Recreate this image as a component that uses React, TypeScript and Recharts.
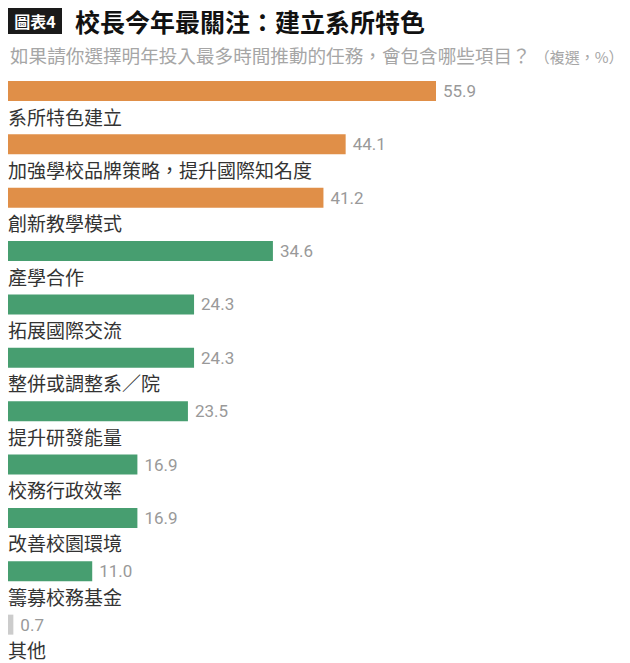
import { Bar, BarChart, Cell, LabelList, XAxis, YAxis } from "recharts";

const categories = [
  "系所特色建立",
  "加強學校品牌策略，提升國際知名度",
  "創新教學模式",
  "產學合作",
  "拓展國際交流",
  "整併或調整系／院",
  "提升研發能量",
  "校務行政效率",
  "改善校園環境",
  "籌募校務基金",
  "其他",
];

const shares = [55.9, 44.1, 41.2, 34.6, 24.3, 24.3, 23.5, 16.9, 16.9, 11.0, 0.7];

// top three are highlighted, the "other" row is greyed out
const highlightCount = 3;
const otherLabel = "其他";

const ORANGE = "#E08F48";
const GREEN = "#479E70";
const GREY = "#CCCCCC";
const CJK = '"Noto Sans CJK TC", "Noto Sans", sans-serif';

const data = categories.map((name, i) => ({ name, value: shares[i] }));

function barColor(name: string, index: number) {
  if (name === otherLabel) return GREY;
  return index < highlightCount ? ORANGE : GREEN;
}

// category name sits under its bar, flush with the chart's left edge
function CategoryLabel(props: any) {
  const vb = props.viewBox ?? props;
  const y = Number(vb.y) + Number(vb.height);
  return (
    <text
      x={0}
      y={y + 15}
      dominantBaseline="central"
      fill="#333333"
      fontFamily={CJK}
      fontSize={19}
      textAnchor="start"
    >
      {props.value}
    </text>
  );
}

export default function App() {
  return (
    <div style={{ width: 622, fontFamily: CJK }}>
      <style>{`body{overflow:hidden}`}</style>
      <div style={{ position: "relative", height: 56 }}>
        <div
          style={{
            position: "absolute",
            left: 0,
            top: 0,
            width: 54,
            height: 26,
            background: "#1a1a1a",
            color: "#fff",
            fontSize: 16,
            fontWeight: 700,
            lineHeight: "26px",
            textAlign: "center",
          }}
        >
          圖表4
        </div>
        <div
          style={{
            position: "absolute",
            left: 67,
            top: -2,
            fontSize: 25,
            fontWeight: 700,
            lineHeight: "30px",
            color: "#111",
            whiteSpace: "nowrap",
          }}
        >
          校長今年最關注：建立系所特色
        </div>
        <div
          style={{
            position: "absolute",
            left: 2,
            top: 37,
            fontSize: 18.6,
            lineHeight: "20px",
            color: "#a6a6a6",
            whiteSpace: "nowrap",
          }}
        >
          如果請你選擇明年投入最多時間推動的任務，會包含哪些項目？
          <span style={{ fontSize: 15, marginLeft: 4 }}>（複選，%）</span>
        </div>
      </div>
      <BarChart
        width={622}
        height={601}
        data={data}
        layout="vertical"
        margin={{ top: 0, right: 194, bottom: 14, left: 0 }}
      >
        <XAxis type="number" domain={[0, "dataMax"]} hide />
        <YAxis type="category" dataKey="name" hide />
        <Bar dataKey="value" barSize={20} isAnimationActive={false}>
          {data.map((d, i) => (
            <Cell key={d.name} fill={barColor(d.name, i)} />
          ))}
          <LabelList
            dataKey="value"
            position="right"
            offset={7}
            fill="#999999"
            fontSize={17}
            fontFamily="Roboto, sans-serif"
            formatter={(v: any) => Number(v).toFixed(1)}
          />
          <LabelList dataKey="name" content={<CategoryLabel />} />
        </Bar>
      </BarChart>
    </div>
  );
}
